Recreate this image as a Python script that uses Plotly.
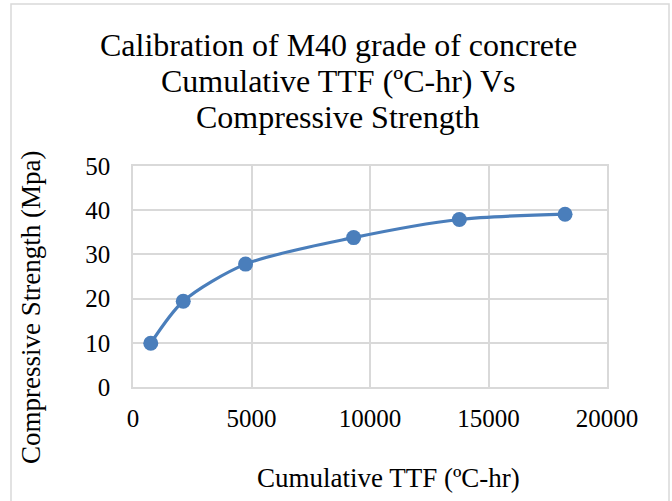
import plotly.graph_objects as go

ttf = [750, 2120, 4750, 9310, 13770, 18230]
strength = [9.9, 19.4, 27.8, 33.8, 37.9, 39.1]
x_ticks = [0, 5000, 10000, 15000, 20000]
y_ticks = [0, 10, 20, 30, 40, 50]

title_lines = ["Calibration of M40 grade of concrete",
               "Cumulative TTF (ºC-hr) Vs",
               "Compressive Strength"]
x_title = "Cumulative TTF (ºC-hr)"
y_title = "Compressive Strength (Mpa)"

FONT = "Liberation Serif, Times New Roman, serif"
L, R, T, B = 133, 65, 166, 114
W, H = 672, 501
pw, ph = W - L - R, H - T - B

def px_x(p):
    return (p - L) / pw

def px_y(p):
    return (H - B - p) / ph

fig = go.Figure()
fig.add_trace(go.Scatter(
    x=ttf, y=strength, mode="lines+markers",
    line=dict(color="#4a7ebb", width=3.2, shape="spline", smoothing=0.8),
    marker=dict(color="#4a7ebb", size=15),
    showlegend=False, hoverinfo="x+y",
))

annotations = []
for txt, yc in zip(title_lines, [45, 81, 117]):
    annotations.append(dict(text=txt, x=px_x(338), y=px_y(yc), xref="paper", yref="paper",
                            showarrow=False, font=dict(size=32, family=FONT, color="#000000"),
                            xanchor="center", yanchor="middle"))
annotations.append(dict(text=x_title, x=px_x(388), y=px_y(478), xref="paper", yref="paper",
                        showarrow=False, font=dict(size=27, family=FONT, color="#000000"),
                        xanchor="center", yanchor="middle"))
annotations.append(dict(text=y_title, x=px_x(31), y=px_y(308), xref="paper", yref="paper",
                        showarrow=False, textangle=-90, font=dict(size=27, family=FONT, color="#000000"),
                        xanchor="center", yanchor="middle"))

fig.update_layout(
    width=W, height=H,
    margin=dict(l=L, r=R, t=T, b=B),
    paper_bgcolor="white", plot_bgcolor="white",
    font=dict(family=FONT, color="#000000", size=25),
    xaxis=dict(range=[0, 20000], tickvals=x_ticks, ticktext=[str(v) for v in x_ticks],
               showgrid=True, gridcolor="#d9d9d9", gridwidth=1.5,
               showline=True, linecolor="#d9d9d9", linewidth=1.5, mirror=True,
               zeroline=False, ticks="", tickfont=dict(size=25, family=FONT, color="#000000"),
               ticklabelstandoff=8, fixedrange=True),
    yaxis=dict(range=[0, 50], tickvals=y_ticks, ticktext=[str(v) for v in y_ticks],
               showgrid=True, gridcolor="#d9d9d9", gridwidth=1.5,
               showline=True, linecolor="#d9d9d9", linewidth=1.5, mirror=True,
               zeroline=False, ticks="", tickfont=dict(size=25, family=FONT, color="#000000"),
               ticklabelstandoff=16, fixedrange=True),
    annotations=annotations,
    shapes=[
        dict(type="rect", xref="paper", yref="paper",
             x0=px_x(11), x1=px_x(669), y0=px_y(520), y1=px_y(4),
             line=dict(color="#d9d9d9", width=1.5), fillcolor="rgba(0,0,0,0)", layer="below"),
    ],
)

fig.write_html("out.html")
